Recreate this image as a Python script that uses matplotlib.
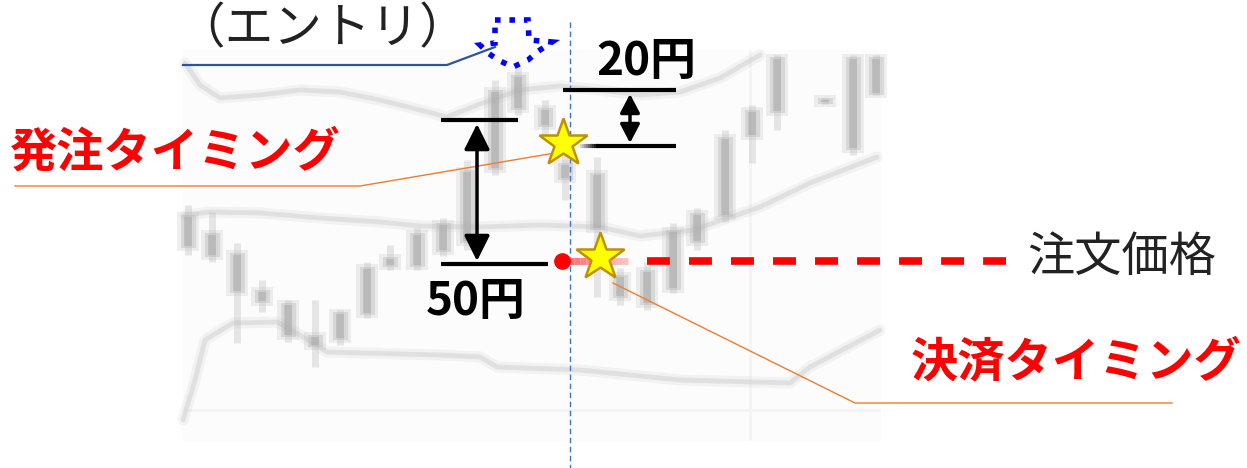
import numpy as np
import matplotlib.pyplot as plt
from matplotlib.patches import Polygon, Rectangle
from matplotlib.collections import LineCollection

plt.rcParams['font.family'] = ['Noto Sans CJK JP', 'DejaVu Sans']

# background candlestick chart (screen units, y grows downward)
candle_x = [188, 212, 237, 262, 288, 315, 340, 367, 390, 417, 443, 467, 495, 518, 545, 565,
            597, 620, 647, 673, 697, 725, 752, 777, 825, 853, 876]
body_top = [215, 233, 253, 290, 303, 335, 312, 267, 257, 233, 223, 170, 90, 75, 108, 163,
            173, 275, 270, 230, 213, 137, 110, 57, 98, 57, 57]
body_bottom = [248, 257, 293, 303, 337, 347, 340, 315, 267, 267, 252, 243, 170, 110, 127, 180,
               230, 298, 305, 290, 243, 217, 137, 113, 104, 150, 95]
wick_top = [205, 212, 243, 280, 300, 300, 310, 262, 245, 228, 218, 160, 80, 68, 100, 150,
            157, 268, 262, 223, 208, 130, 105, 55, 98, 55, 55]
wick_bottom = [255, 262, 343, 312, 342, 367, 345, 318, 270, 270, 256, 250, 175, 115, 135, 200,
               297, 305, 310, 293, 250, 222, 163, 130, 104, 155, 95]

upper_x = [185, 200, 220, 260, 300, 340, 380, 420, 447, 480, 520, 560, 600, 640, 680, 720, 760]
upper_y = [63, 85, 98, 95, 90, 92, 100, 110, 117, 104, 90, 86, 90, 95, 92, 78, 55]
middle_x = [185, 210, 260, 320, 380, 420, 480, 540, 600, 640, 693, 760, 810, 877]
middle_y = [215, 212, 213, 218, 222, 226, 227, 225, 227, 236, 230, 207, 183, 157]
lower_x = [183, 195, 205, 233, 277, 300, 327, 440, 480, 497, 580, 680, 790, 810, 880]
lower_y = [420, 380, 340, 323, 322, 335, 352, 355, 357, 367, 370, 380, 383, 367, 330]

fig = plt.figure(figsize=(12.47, 4.68), dpi=100)
ax = fig.add_axes([0, 0, 1, 1])
ax.set_xlim(0, 1247)
ax.set_ylim(468, 0)
ax.axis('off')

# faint chart area + grid
ax.add_patch(Rectangle((183, 50), 697, 390, color='#fcfcfc', zorder=0))
ax.hlines([410], 183, 880, color='#f2f2f2', lw=2, zorder=0)
ax.vlines([750], 50, 440, color='#f4f4f4', lw=2, zorder=0)

# blurry bands
for bx, by in [(upper_x, upper_y), (middle_x, middle_y), (lower_x, lower_y)]:
    ax.plot(bx, by, color='#cccccc', lw=8, alpha=0.2, solid_capstyle='round', zorder=1)
    ax.plot(bx, by, color='#cccccc', lw=3.5, alpha=0.45, solid_capstyle='round', zorder=1)

# blurry candles
ct = np.array(body_top)
cb = np.array(body_bottom)
ax.vlines(candle_x, wick_top, wick_bottom, color='#bbbbbb', lw=5, alpha=0.35, zorder=1)
ax.bar(candle_x, cb - ct + 6, bottom=ct - 3, width=22, color='#c0c0c0', alpha=0.25, zorder=1)
ax.bar(candle_x, cb - ct, bottom=ct, width=15, color='#b0b0b0', alpha=0.35, zorder=1)
ax.bar(candle_x, cb - ct - 4, bottom=ct + 2, width=8, color='#a0a0a0', alpha=0.4, zorder=1)

# entry vertical line
ax.vlines(570, 22, 468, color='#4472C4', lw=1, linestyles=(0, (4, 2.5)), zorder=2)

# entry label + leader
ax.text(322, 30, '（エントリ）', fontsize=35, ha='center', va='center', color='#222222')
ax.plot([183, 447, 495], [65, 65, 47], color='#2F5597', lw=1.6, zorder=3)
uturn = [(495, 20), (528, 20), (529, 40), (552, 42), (537, 52), (528, 60), (513, 67),
         (498, 60), (488, 53), (480, 45), (495, 43)]
ax.add_patch(Polygon(uturn, closed=True, fill=False, edgecolor='#0000FF', lw=4,
                     linestyle=(0, (1, 1.6)), zorder=3))

# 20 yen markers
ax.hlines(90, 563, 676, color='black', lw=3, zorder=3)
ax.hlines(146, 597, 676, color='black', lw=3, zorder=3)
gx = np.linspace(578, 598, 11)
seg = [[(gx[i], 146), (gx[i + 1], 146)] for i in range(10)]
ax.add_collection(LineCollection(seg, colors=[(0, 0, 0, a) for a in np.linspace(0.05, 1, 10)],
                                 lw=3, zorder=3))
ax.annotate('', xy=(630, 94), xytext=(630, 143),
            arrowprops=dict(arrowstyle='<|-|>,head_length=0.42,head_width=0.22', lw=2.5,
                            color='black', mutation_scale=27, shrinkA=0, shrinkB=0), zorder=4)
ax.text(646, 62, '20円', fontsize=33, fontweight='bold', ha='center', va='center')

# 50 yen markers
ax.hlines(120, 441, 518, color='black', lw=3, zorder=3)
ax.hlines(264, 441, 548, color='black', lw=3, zorder=3)
ax.annotate('', xy=(477, 124), xytext=(477, 261),
            arrowprops=dict(arrowstyle='<|-|>,head_length=0.6,head_width=0.3', lw=2.5,
                            color='black', mutation_scale=26, shrinkA=0, shrinkB=0), zorder=4)
ax.text(476, 302, '50円', fontsize=33, fontweight='bold', ha='center', va='center')

# order price line
px = np.linspace(562, 628, 12)
seg = [[(px[i], 261), (px[i + 1], 261)] for i in range(11)]
ax.add_collection(LineCollection(seg, colors=[(1, 0.35, 0.35, a) for a in np.linspace(0.9, 0.35, 11)],
                                 lw=5, zorder=3))
ax.plot([647, 1006], [261, 261], color='#FF0000', lw=5.5, linestyle=(0, (3.0, 2.5)), zorder=3)
ax.plot([562], [261], 'o', color='#FF0000', ms=11, zorder=5)
ax.text(1122, 258, '注文価格', fontsize=34, ha='center', va='center', color='#222222')

# timing stars + leaders
ax.plot([15, 360, 555], [186, 186, 153], color='#ED7D31', lw=1, zorder=3)
ax.plot([613, 855, 1172], [283, 403, 403], color='#ED7D31', lw=1, zorder=3)
ax.plot([563, 600], [143, 257], linestyle='none', marker='*', ms=36, mfc='#FFFF00',
        mec='#BF9000', mew=1.8, zorder=6)
ax.text(175, 152, '発注タイミング', fontsize=34, fontweight='bold', color='#FF0000',
        ha='center', va='center')
ax.text(1076, 362, '決済タイミング', fontsize=34, fontweight='bold', color='#FF0000',
        ha='center', va='center')

fig.savefig('out.png', dpi=100)
